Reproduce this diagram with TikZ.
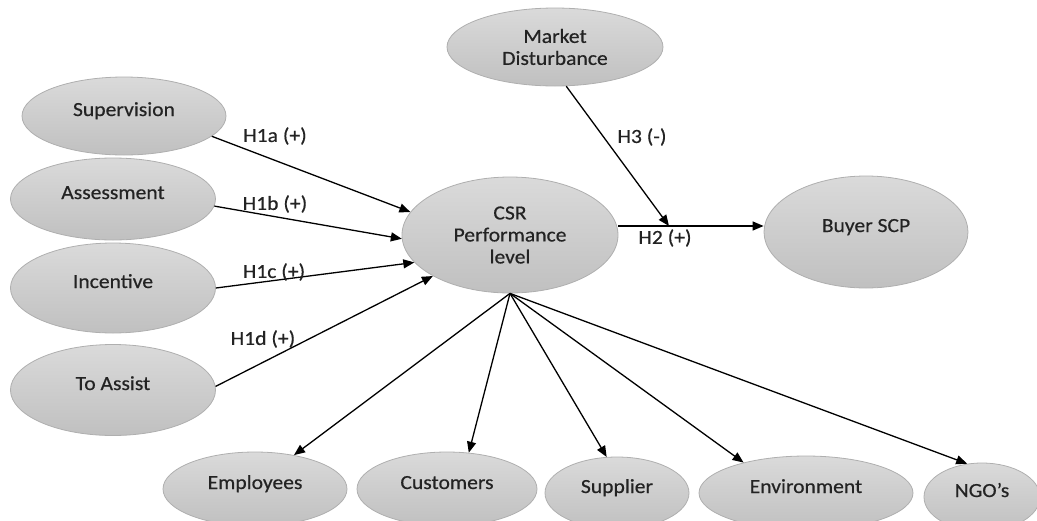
\documentclass[tikz,border=0pt]{standalone}
\usepackage{fontspec}
\setmainfont{Carlito}[FakeStretch=1.08,FakeBold=0.5]
\usetikzlibrary{shapes.geometric,arrows.meta}
\definecolor{elltop}{RGB}{218,218,218}
\definecolor{ellbot}{RGB}{192,192,192}
\definecolor{ellline}{RGB}{175,175,175}
\definecolor{txt}{RGB}{35,35,35}
\tikzset{
  ell/.style={ellipse, draw=ellline, line width=0.8pt, top color=elltop, bottom color=ellbot,
    inner sep=0pt, text=txt, font=\fontsize{20}{22}\selectfont},
  one/.style={text height=12pt, text depth=12pt},
  two/.style={align=center},
  arr/.style={line width=1.3pt, -{Triangle[length=11pt,width=9pt]}},
  hyp/.style={text=txt, font=\fontsize{20}{22}\selectfont, inner sep=0pt}
}
\begin{document}
\begin{tikzpicture}[x=1pt,y=-1pt]
\useasboundingbox (0,0) rectangle (1037,520);
\clip (0,0) rectangle (1037,520);
% left column
\node[ell,one,minimum width=204pt,minimum height=78pt] (sup) at (124,116) {Supervision};
\node[ell,one,minimum width=205pt,minimum height=82pt] (ass) at (113,199) {Assessment};
\node[ell,one,minimum width=205pt,minimum height=90pt] (inc) at (113,288) {Incentive};
\node[ell,one,minimum width=205pt,minimum height=91pt] (ta) at (113,390) {To Assist};
% centre
\node[ell,two,minimum width=216pt,minimum height=116pt] (csr) at (510,235) {CSR\\Performance\\level};
\node[ell,two,minimum width=216pt,minimum height=78pt] (md) at (555,47) {Market\\Disturbance};
\node[ell,one,minimum width=204pt,minimum height=112pt] (buy) at (866,232) {Buyer SCP};
% bottom row
\node[ell,one,minimum width=184pt,minimum height=74pt] (emp) at (255,489) {Employees};
\node[ell,one,minimum width=180pt,minimum height=74pt] (cus) at (447,489) {Customers};
\node[ell,one,minimum width=144pt,minimum height=72pt] (sui) at (617,493) {Supplier};
\node[ell,one,minimum width=214pt,minimum height=74pt] (env) at (806,493) {Environment};
\node[ell,one,minimum width=116pt,minimum height=68pt] (ngo) at (982,497) {NGO’s};
% junction
\coordinate (j) at (669,226);
% arrows
\draw[arr] (sup.-13) -- (csr.167);
\draw[arr] (ass.-4) -- (csr.-178);
\draw[arr] (inc.0) -- (csr.-164);
\draw[arr] (ta.2) -- (csr.-152);
\draw[arr] (j -| csr.east) -- (j -| buy.west);
\draw[arr] (md.-74) -- (j);
\draw[arr] (csr.south) -- (emp.41.5);
\draw[arr] (csr.south) -- (cus.59);
\draw[arr] (csr.south) -- (sui.106);
\draw[arr] (csr.south) -- (env.154);
\draw[arr] (csr.south) -- (ngo.114);
% hypothesis labels
\node[hyp] (h1a) at (275,136) {H1a (+)};
\node[hyp] (h1b) at (275,204) {H1b (+)};
\node[hyp] (h1c) at (274,272) {H1c (+)};
\node[hyp] (h1d) at (263,339) {H1d (+)};
\node[hyp] (h3) at (642,137) {H3 (-)};
\node[hyp] (h2) at (665,238) {H2 (+)};
\end{tikzpicture}
\end{document}
